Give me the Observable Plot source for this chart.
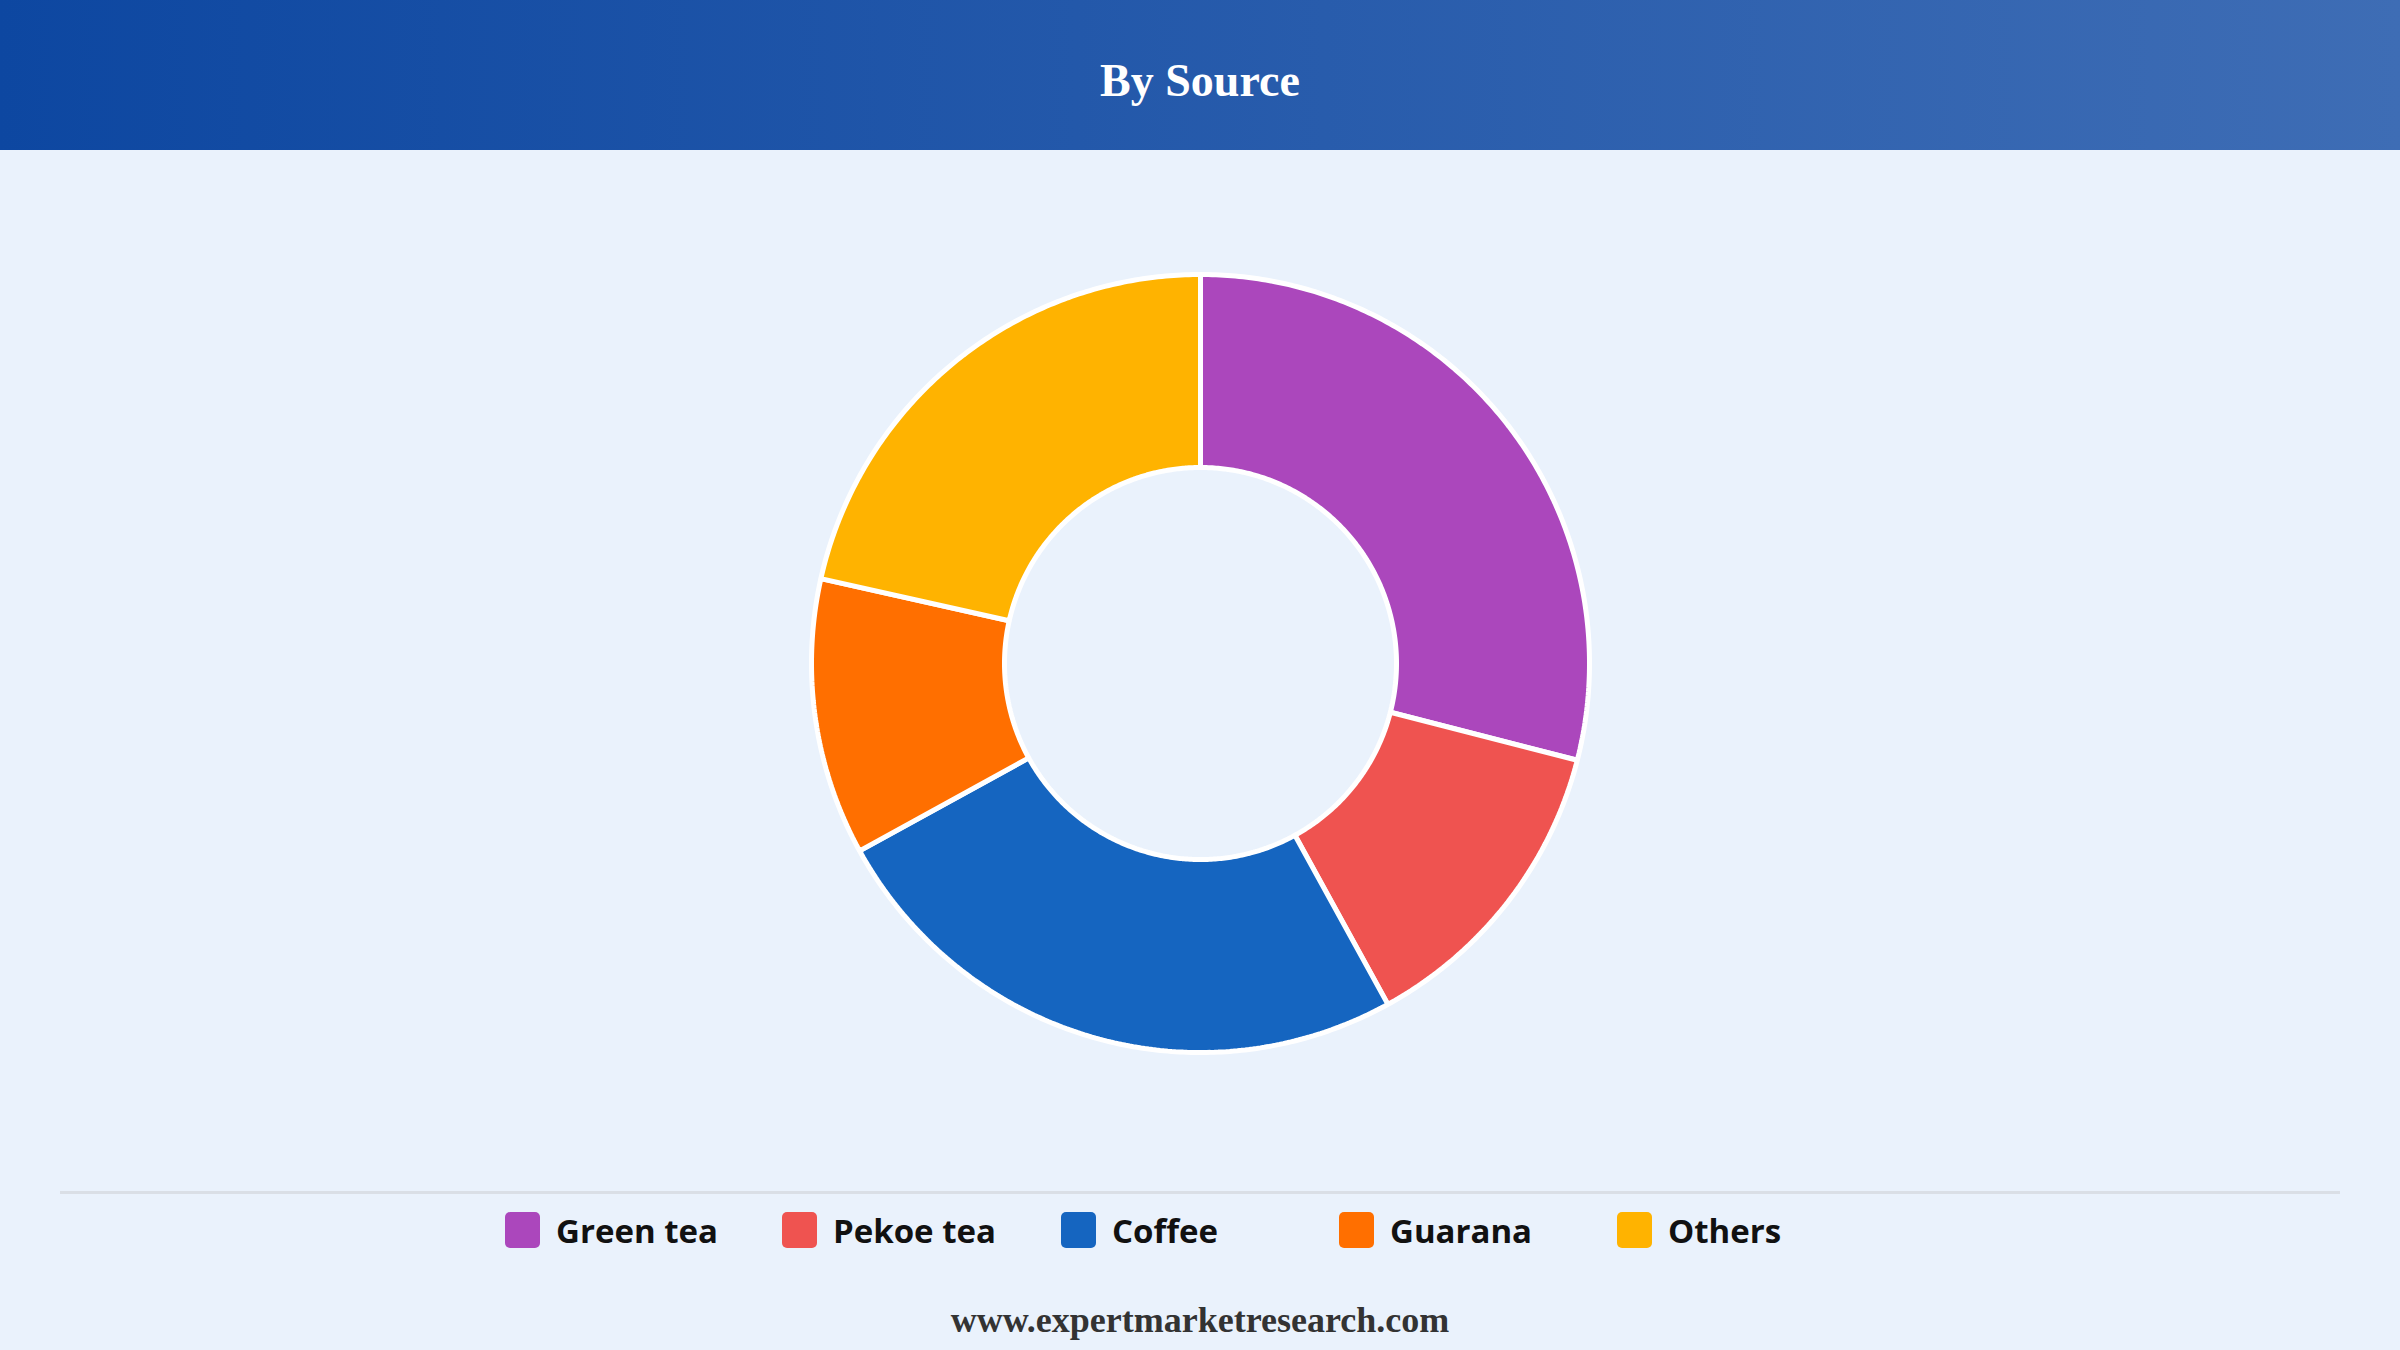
<!DOCTYPE html>
<html>
<head>
<meta charset="utf-8">
<script src="https://cdn.jsdelivr.net/npm/d3@7"></script>
<script src="https://cdn.jsdelivr.net/npm/@observablehq/plot@0.6"></script>
<style>
  html, body { margin: 0; padding: 0; }
  body { width: 2400px; height: 1350px; background: #EAF2FC; position: relative; overflow: hidden; }
  #banner { position: absolute; left: 0; top: 0; width: 2400px; height: 150px;
    background: linear-gradient(to right, #0D47A1, #3E6DB5); }
  #title { position: absolute; left: 0; top: 0; width: 2400px; height: 150px; line-height: 162px;
    text-align: center; color: #fff; font-family: "Liberation Serif", "Times New Roman", serif;
    font-weight: bold; font-size: 46px; }
  #chart { position: absolute; left: 800px; top: 263px; }
  #rule { position: absolute; left: 60px; top: 1191px; width: 2280px; height: 3px; background: #DADFE6; }
  #legend { position: absolute; top: 1212px; left: 0; width: 2400px; height: 40px; }
  .item { position: absolute; top: 0; height: 36px; display: flex; align-items: center; }
  .sw { width: 35px; height: 36px; border-radius: 5px; }
  .lab { margin-left: 16px; font-family: "Open Sans", "Noto Sans", sans-serif; font-weight: 700;
    font-size: 33px; color: #111; white-space: nowrap; }
  #footer { position: absolute; left: 0; top: 1299px; width: 2400px; text-align: center;
    font-family: "Liberation Serif", "Times New Roman", serif; font-weight: bold; font-size: 36px; color: #333; }
</style>
</head>
<body>
<div id="banner"></div>
<div id="title">By Source</div>
<div id="chart"></div>
<div id="rule"></div>
<div id="legend"></div>
<div id="footer">www.expertmarketresearch.com</div>
<script>
// Data
const categories = ["Green tea", "Pekoe tea", "Coffee", "Guarana", "Others"];
const shares = [29, 13, 25, 11.5, 21.5];
const colors = ["#AB47BC", "#EF5350", "#1565C0", "#FF6F00", "#FFB300"];

// Layout constants
const SIZE = 800, OUTER = 389, INNER = 196, HALF = 400;

const rows = categories.map((c, i) => ({name: c, value: shares[i]}));
const arcs = d3.pie().sort(null).value(d => d.value).startAngle(0).endAngle(2 * Math.PI)(rows);

// Build ring polygons from pie angles
const pts = [];
for (const a of arcs) {
  const n = Math.max(8, Math.ceil((a.endAngle - a.startAngle) / 0.01));
  for (let k = 0; k <= n; k++) {
    const t = a.startAngle + (a.endAngle - a.startAngle) * k / n;
    pts.push({name: a.data.name, x: OUTER * Math.sin(t), y: OUTER * Math.cos(t)});
  }
  for (let k = n; k >= 0; k--) {
    const t = a.startAngle + (a.endAngle - a.startAngle) * k / n;
    pts.push({name: a.data.name, x: INNER * Math.sin(t), y: INNER * Math.cos(t)});
  }
}

const chart = Plot.plot({
  width: SIZE, height: SIZE,
  margin: 0,
  style: {background: "transparent"},
  x: {domain: [-HALF, HALF], axis: null},
  y: {domain: [-HALF, HALF], axis: null},
  color: {domain: categories, range: colors},
  marks: [
    Plot.line(pts, {x: "x", y: "y", z: "name", fill: "name", stroke: "white",
      strokeWidth: 5, strokeLinejoin: "miter", curve: "linear-closed"})
  ]
});
document.getElementById("chart").appendChild(chart);

// Legend
const legendX = [505, 782, 1061, 1339, 1617];
const legend = document.getElementById("legend");
categories.forEach((c, i) => {
  const it = document.createElement("div");
  it.className = "item";
  it.style.left = legendX[i] + "px";
  const sw = document.createElement("div");
  sw.className = "sw";
  sw.style.background = colors[i];
  const lb = document.createElement("span");
  lb.className = "lab";
  lb.textContent = c;
  it.appendChild(sw); it.appendChild(lb);
  legend.appendChild(it);
});
</script>
</body>
</html>
